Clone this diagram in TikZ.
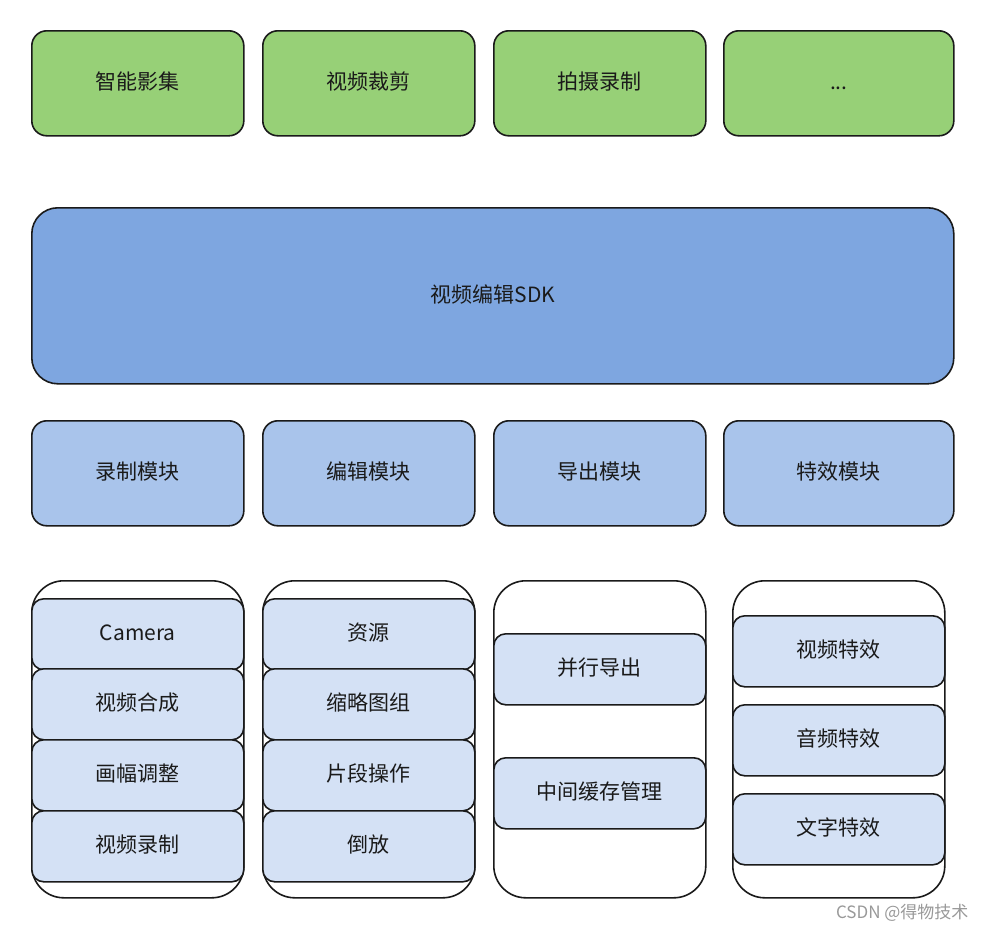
\documentclass[tikz,border=0pt]{standalone}
\usepackage{fontspec}
\setmainfont{Noto Sans CJK SC}
\usepackage{tikz}
\usetikzlibrary{positioning}
\definecolor{appgreen}{HTML}{97D077}
\definecolor{sdkblue}{HTML}{7EA6E0}
\definecolor{modblue}{HTML}{A9C4EB}
\definecolor{subblue}{HTML}{D4E1F5}
\definecolor{edge}{HTML}{1A1A1A}
\tikzset{
    box/.style={draw=edge, line width=1.6pt, rectangle, anchor=north west, inner sep=0pt, font=\fontsize{21}{24}\selectfont, text=edge, text height=16pt, text depth=3pt},
    appbox/.style={box, fill=appgreen, rounded corners=15pt, minimum width=212pt, minimum height=105pt},
    sdkbox/.style={box, fill=sdkblue, rounded corners=26pt, minimum width=922pt, minimum height=176pt},
    modbox/.style={box, fill=modblue, rounded corners=15pt, minimum width=212pt, minimum height=105pt},
    colbox/.style={box, fill=white, rounded corners=32pt, minimum width=212pt, minimum height=317pt},
    subbox/.style={box, fill=subblue, rounded corners=12pt, minimum width=212pt, minimum height=71pt}
}
\begin{document}
\begin{tikzpicture}[x=1pt,y=-1pt]
    \useasboundingbox[fill=white] (0,0) rectangle (986,932);

    % applications
    \node[appbox] (smart) at (31,30) {智能影集};
    \node[appbox] (crop) at (262,30) {视频裁剪};
    \node[appbox] (shoot) at (493,30) {拍摄录制};
    \node[appbox, minimum width=230pt] (more) at (723,30) {...};

    % sdk
    \node[sdkbox] (sdk) at (31,207) {视频编辑SDK};

    % modules
    \node[modbox] (recmod) at (31,420) {录制模块};
    \node[modbox] (editmod) at (262,420) {编辑模块};
    \node[modbox] (expmod) at (493,420) {导出模块};
    \node[modbox, minimum width=230pt] (fxmod) at (723,420) {特效模块};

    % columns
    \node[colbox] (reccol) at (31,580) {};
    \node[colbox] (editcol) at (262,580) {};
    \node[colbox] (expcol) at (493,580) {};
    \node[colbox] (fxcol) at (732,580) {};

    \node[subbox] (camera) at (31,598) {Camera};
    \node[subbox] (compose) at (31,668) {视频合成};
    \node[subbox] (frame) at (31,739) {画幅调整};
    \node[subbox] (record) at (31,810) {视频录制};

    \node[subbox] (source) at (262,598) {资源};
    \node[subbox] (thumb) at (262,668) {缩略图组};
    \node[subbox] (clip) at (262,739) {片段操作};
    \node[subbox] (reverse) at (262,810) {倒放};

    \node[subbox] (parallel) at (493,633) {并行导出};
    \node[subbox] (cache) at (493,757) {中间缓存管理};

    \node[subbox] (vfx) at (732,615) {视频特效};
    \node[subbox] (afx) at (732,704) {音频特效};
    \node[subbox] (tfx) at (732,793) {文字特效};

    \node[anchor=east, text=gray!80, font=\fontsize{17}{20}\selectfont] (mark) at (972,913) {CSDN @得物技术};
\end{tikzpicture}
\end{document}
